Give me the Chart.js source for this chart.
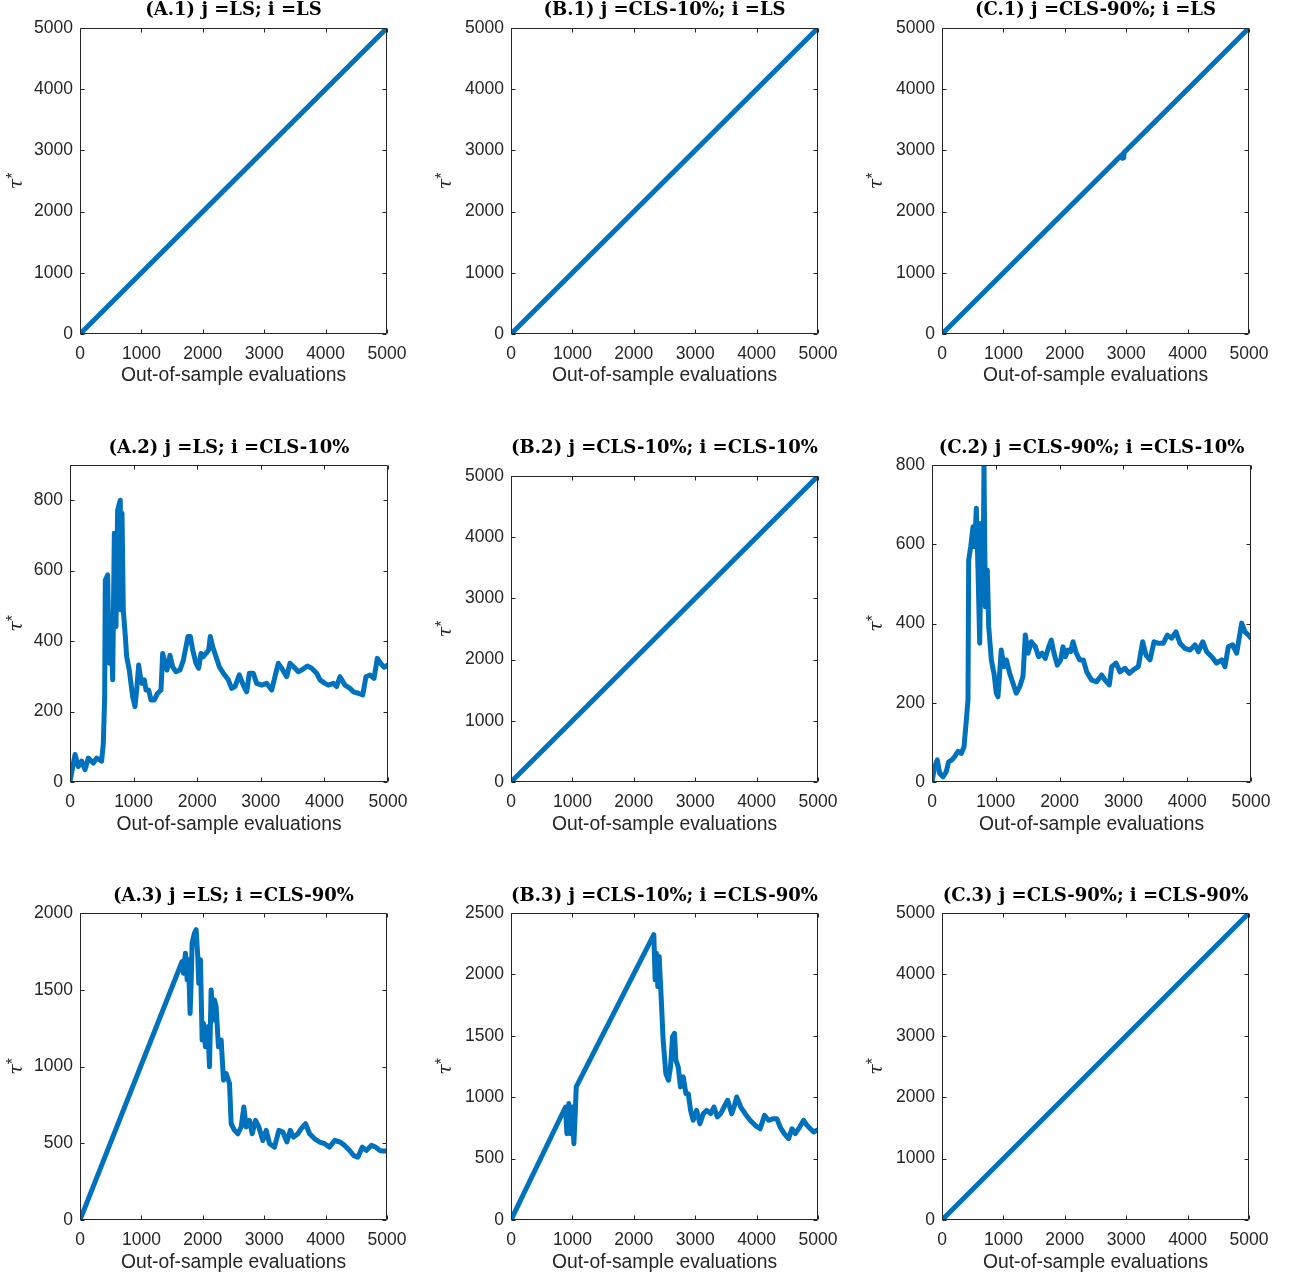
<!DOCTYPE html>
<html>
<head>
<meta charset="utf-8">
<script src="https://cdn.jsdelivr.net/npm/chart.js@4.4.1/dist/chart.umd.min.js"></script>
<style>
	body { margin: 0; background: #fff; }
	#page { position: relative; width: 1289px; height: 1278px; overflow: hidden; }
	#page canvas { position: absolute; }
</style>
</head>
<body>
<div id="page"></div>
<script>
var evalTicks = [0, 1000, 2000, 3000, 4000, 5000];
var tauTicks5000 = [0, 1000, 2000, 3000, 4000, 5000];
var tauTicks800 = [0, 200, 400, 600, 800];
var tauTicks2000 = [0, 500, 1000, 1500, 2000];
var tauTicks2500 = [0, 500, 1000, 1500, 2000, 2500];

var a1Eval = [0, 5000];
var a1Tau = [0, 5000];

var b1Eval = [0, 5000];
var b1Tau = [0, 5000];

var c1Eval = [0, 2930, 2940, 2960, 2965, 5000];
var c1Tau = [0, 2930, 2870, 2880, 2965, 5000];

var a2Eval = [0, 79, 131, 183, 236, 288, 366, 419, 497, 524, 545, 555, 592, 618, 645, 671, 697, 723, 749, 791,
	802, 818, 838, 870, 891, 932,
	985, 1022, 1048, 1080, 1106, 1132, 1169, 1195, 1237, 1274, 1326, 1379, 1431, 1457, 1494, 1525, 1572, 1614, 1667, 1730,
	1782, 1824, 1855, 1892, 1929, 1981, 2023, 2060, 2096, 2138, 2181, 2206, 2244, 2296, 2348,
	2411, 2489, 2542, 2594, 2662, 2725, 2778, 2820, 2882, 2935, 3014, 3093, 3171, 3223, 3275, 3328, 3407, 3459, 3538, 3590,
	3643, 3731, 3800, 3878, 3931, 4009, 4061, 4140, 4192, 4245, 4324, 4402, 4455, 4533, 4602, 4654, 4717, 4780, 4832, 4885,
	4937, 5000];
var a2Tau = [0, 78, 44, 59, 35, 68, 54, 68, 59, 110, 242, 573, 588, 337, 441, 290, 706, 441, 772, 800,
	488, 763, 488, 413, 356, 318,
	242, 214, 261, 332, 299, 280, 290, 261, 261, 233, 233, 252, 261, 365, 337, 318, 360, 327, 313, 318,
	346, 384, 413, 413, 375, 337, 323, 365, 356, 365, 375, 413, 384, 356, 327,
	309, 290, 266, 271, 304, 275, 256, 309, 309, 280, 275, 280, 261, 299, 337, 323, 299, 337, 323, 313,
	318, 329, 323, 309, 290, 280, 275, 280, 271, 299, 275, 266, 256, 252, 247, 299, 304, 294, 351, 337,
	326, 332];

var b2Eval = [0, 5000];
var b2Tau = [0, 5000];

var c2Eval = [0, 42, 83, 120, 172, 224, 261, 313, 355, 407, 459, 502, 538, 564, 575, 607, 643, 669, 695, 721,
	748, 773, 799, 815, 836, 867, 889, 930, 972, 1008, 1034, 1086, 1129, 1165, 1218, 1270, 1321, 1374, 1426, 1463,
	1505, 1557, 1620, 1672, 1724, 1776, 1829, 1870, 1912, 1964, 2017, 2053, 2089, 2132, 2174, 2210, 2262, 2315,
	2372, 2425, 2503, 2581, 2660, 2712, 2779, 2817, 2884, 2947, 3025, 3093, 3155, 3234, 3302, 3354, 3417, 3480, 3547,
	3625, 3688, 3757, 3824, 3887, 3966, 4044, 4122, 4174, 4243, 4305, 4384, 4462, 4540, 4592, 4644, 4713, 4775, 4854, 4906,
	4958, 5000];
var c2Tau = [0, 39, 56, 22, 13, 26, 51, 56, 64, 77, 72, 89, 156, 207, 560, 594, 644, 594, 691, 535,
	350, 653, 476, 800, 442, 535, 392, 308, 274, 224, 215, 333, 291, 308, 274, 249, 224, 240, 266, 371,
	325, 354, 341, 316, 325, 312, 341, 358, 325, 295, 308, 341, 316, 333, 329, 354, 325, 308,
	308, 278, 257, 253, 270, 257, 245, 291, 300, 278, 287, 274, 283, 291, 354, 320, 308, 354, 350,
	350, 371, 363, 379, 350, 337, 333, 346, 329, 354, 329, 316, 300, 308, 291, 341, 346, 325, 401, 379,
	371, 363];

var a3Eval = [0, 1663, 1685, 1717, 1745, 1766, 1793, 1810, 1826, 1864, 1891, 1918, 1934, 1962, 1989, 2011, 2043, 2082, 2109, 2136,
	2163, 2190, 2217, 2255, 2299, 2337, 2380, 2435, 2462, 2516, 2571, 2625, 2668, 2707, 2761, 2804, 2859, 2913, 2978, 3033,
	3087, 3168, 3239, 3304, 3370, 3424, 3478, 3549, 3603, 3674, 3739, 3821, 3902, 3984, 4065, 4147, 4234, 4310, 4391, 4457,
	4527, 4598, 4663, 4745, 4815, 4880, 4935, 5000];
var a3Tau = [0, 1684, 1608, 1738, 1564, 1695, 1346, 1542, 1804, 1869, 1891, 1717, 1542, 1695, 1172, 1281, 1128, 1259, 998, 1499,
	1303, 1434, 1390, 1128, 1172, 911, 954, 889, 627, 584, 562, 606, 736, 606, 649, 562, 649, 606, 518, 584,
	497, 475, 584, 573, 508, 584, 540, 562, 595, 627, 562, 529, 508, 497, 475, 518, 508, 486, 453, 420,
	410, 475, 453, 486, 475, 453, 449, 449];

var b3Eval = [0, 888, 910, 942, 964, 997, 1024, 1046, 1062, 2326, 2348, 2369, 2391, 2413, 2440, 2478, 2522, 2565, 2598, 2631,
	2663, 2685, 2723, 2761, 2805, 2849, 2887, 2925, 2968, 3023, 3077, 3132, 3186, 3252, 3306, 3360, 3415, 3469, 3529, 3595,
	3633, 3676, 3742, 3813, 3894, 3976, 4058, 4129, 4194, 4276, 4330, 4384, 4450, 4521, 4575, 4630, 4701, 4766, 4820, 4875,
	4929, 5000];
var b3Tau = [0, 920, 703, 948, 703, 920, 621, 866, 1084, 2323, 1955, 2173, 1901, 2146, 1874, 1465, 1193, 1138, 1247, 1492,
	1520, 1302, 1247, 1084, 1166, 1029, 1029, 893, 812, 893, 784, 866, 893, 866, 920, 839, 866, 920, 975, 866,
	920, 1002, 920, 866, 812, 771, 743, 852, 812, 825, 825, 757, 703, 662, 743, 703, 757, 812, 771, 743,
	716, 735];

var c3Eval = [0, 5000];
var c3Tau = [0, 5000];

var lineColor = '#0072BD';
var axisColor = '#262626';
var tickFont = { family: 'Liberation Sans', size: 17.5 };

// cell = [left, top, width, height] of the canvas, box = [left, top, right, bottom] of the axes, page pixels
var rowTitleY = [10, 448, 896];
var rowLabelY = [376, 825, 1263];
var colLabelX = [17, 446, 877];

var panels = [
	{ title: '(A.1) j =LS; i =LS', evals: a1Eval, tau: a1Tau, yMax: 5000, yTicks: tauTicks5000, row: 0, col: 0, cell: [0, 0, 430, 420], box: [80, 28, 387, 334] },
	{ title: '(B.1) j =CLS-10%; i =LS', evals: b1Eval, tau: b1Tau, yMax: 5000, yTicks: tauTicks5000, row: 0, col: 1, cell: [430, 0, 430, 420], box: [511, 28, 818, 334] },
	{ title: '(C.1) j =CLS-90%; i =LS', evals: c1Eval, tau: c1Tau, yMax: 5000, yTicks: tauTicks5000, row: 0, col: 2, cell: [860, 0, 429, 420], box: [942, 28, 1249, 334] },
	{ title: '(A.2) j =LS; i =CLS-10%', evals: a2Eval, tau: a2Tau, yMax: 900, yTicks: tauTicks800, row: 1, col: 0, cell: [0, 420, 430, 440], box: [70, 465, 388, 782] },
	{ title: '(B.2) j =CLS-10%; i =CLS-10%', evals: b2Eval, tau: b2Tau, yMax: 5000, yTicks: tauTicks5000, row: 1, col: 1, cell: [430, 420, 430, 440], box: [511, 476, 818, 782] },
	{ title: '(C.2) j =CLS-90%; i =CLS-10%', evals: c2Eval, tau: c2Tau, yMax: 800, yTicks: tauTicks800, row: 1, col: 2, cell: [860, 420, 429, 440], box: [932, 465, 1251, 782] },
	{ title: '(A.3) j =LS; i =CLS-90%', evals: a3Eval, tau: a3Tau, yMax: 2000, yTicks: tauTicks2000, row: 2, col: 0, cell: [0, 860, 430, 418], box: [80, 913, 387, 1220] },
	{ title: '(B.3) j =CLS-10%; i =CLS-90%', evals: b3Eval, tau: b3Tau, yMax: 2500, yTicks: tauTicks2500, row: 2, col: 1, cell: [430, 860, 430, 418], box: [511, 913, 818, 1220] },
	{ title: '(C.3) j =CLS-90%; i =CLS-90%', evals: c3Eval, tau: c3Tau, yMax: 5000, yTicks: tauTicks5000, row: 2, col: 2, cell: [860, 860, 429, 418], box: [942, 913, 1249, 1220] }
];

// box with inward ticks on all four sides, plus title and axis labels
var matlabAxes = {
	id: 'matlabAxes',
	afterDraw: function(chart, args, opts) {
		var ctx = chart.ctx;
		var a = chart.chartArea;
		var xs = chart.scales.x, ys = chart.scales.y;
		var l = Math.round(a.left) + 0.5, r = Math.round(a.right) - 0.5;
		var t = Math.round(a.top) + 0.5, b = Math.round(a.bottom) - 0.5;
		var tick = 4;

		ctx.save();
		ctx.strokeStyle = axisColor;
		ctx.lineWidth = 1;
		ctx.beginPath();
		ctx.rect(l, t, r - l, b - t);
		xs.ticks.forEach(function(tk) {
			var px = Math.round(xs.getPixelForValue(tk.value)) + 0.5;
			ctx.moveTo(px, b); ctx.lineTo(px, b - tick);
			ctx.moveTo(px, t); ctx.lineTo(px, t + tick);
		});
		ys.ticks.forEach(function(tk) {
			var py = Math.round(ys.getPixelForValue(tk.value)) + 0.5;
			ctx.moveTo(l, py); ctx.lineTo(l + tick, py);
			ctx.moveTo(r, py); ctx.lineTo(r - tick, py);
		});
		ctx.stroke();

		ctx.fillStyle = '#000';
		ctx.font = 'bold 18px "DejaVu Serif"';
		ctx.textAlign = 'center';
		ctx.textBaseline = 'middle';
		ctx.fillText(opts.title, (a.left + a.right) / 2, opts.titleY);

		ctx.fillStyle = axisColor;
		ctx.font = '19.3px "Liberation Sans"';
		ctx.fillText('Out-of-sample evaluations', (a.left + a.right) / 2, opts.xLabelY);

		// tau with a star superscript, reading bottom to top
		ctx.translate(opts.yLabelX, (a.top + a.bottom) / 2);
		ctx.rotate(-Math.PI / 2);
		ctx.textAlign = 'left';
		ctx.textBaseline = 'alphabetic';
		ctx.font = 'italic 19px "DejaVu Serif"';
		var w = ctx.measureText('τ').width;
		ctx.fillText('τ', -w / 2 - 3, 5);
		ctx.font = '16px "Liberation Sans"';
		ctx.fillText('*', w / 2 - 3, 1);
		ctx.restore();
	}
};

var page = document.getElementById('page');

function plainNumber(v) {
	return String(v);
}

panels.forEach(function(p) {
	var cx = p.cell[0], cy = p.cell[1], cw = p.cell[2], ch = p.cell[3];
	var canvas = document.createElement('canvas');
	canvas.width = cw;
	canvas.height = ch;
	canvas.style.left = cx + 'px';
	canvas.style.top = cy + 'px';
	page.appendChild(canvas);

	var points = p.evals.map(function(x, i) {
		return { x: x, y: p.tau[i] };
	});

	var yWidth = p.box[0] - cx;
	var xHeight = cy + ch - p.box[3];

	new Chart(canvas.getContext('2d'), {
		type: 'line',
		data: {
			datasets: [{
				data: points,
				borderColor: lineColor,
				borderWidth: 5,
				borderJoinStyle: 'round',
				borderCapStyle: 'round',
				pointRadius: 0,
				tension: 0,
				fill: false
			}]
		},
		options: {
			responsive: false,
			animation: false,
			devicePixelRatio: 1,
			layout: {
				padding: { left: 0, top: p.box[1] - cy, right: cx + cw - p.box[2], bottom: 0 }
			},
			plugins: {
				legend: { display: false },
				tooltip: { enabled: false },
				matlabAxes: {
					title: p.title,
					titleY: rowTitleY[p.row] - cy,
					xLabelY: rowLabelY[p.row] - cy,
					yLabelX: colLabelX[p.col] - cx
				}
			},
			scales: {
				x: {
					type: 'linear',
					min: 0,
					max: 5000,
					grid: { display: false, drawTicks: false },
					border: { display: false },
					ticks: { font: tickFont, color: axisColor, padding: 10, maxRotation: 0, callback: plainNumber },
					afterBuildTicks: function(scale) {
						scale.ticks = evalTicks.map(function(v) { return { value: v }; });
					},
					afterFit: function(scale) {
						scale.height = xHeight;
					}
				},
				y: {
					type: 'linear',
					min: 0,
					max: p.yMax,
					grid: { display: false, drawTicks: false },
					border: { display: false },
					ticks: { font: tickFont, color: axisColor, padding: 7, callback: plainNumber },
					afterBuildTicks: function(scale) {
						scale.ticks = p.yTicks.map(function(v) { return { value: v }; });
					},
					afterFit: function(scale) {
						scale.width = yWidth;
					}
				}
			}
		},
		plugins: [matlabAxes]
	});
});
</script>
</body>
</html>
